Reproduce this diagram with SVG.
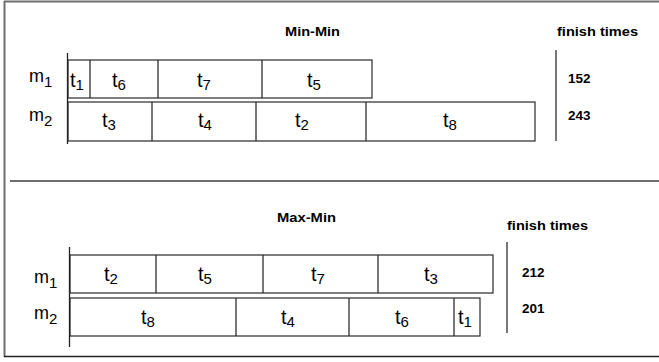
<svg xmlns="http://www.w3.org/2000/svg" width="659" height="362" viewBox="0 0 659 362">
  <style>
    .frame { stroke: #6e6e6e; stroke-width: 2; fill: none; }
    .box { fill: #ffffff; stroke: #3a3a3a; stroke-width: 1.3; }
    .div { stroke: #2e2e2e; stroke-width: 1.3; }
    .axis { stroke: #222222; stroke-width: 1.3; }
    .mark { stroke: #555555; stroke-width: 1.6; }
    .title { font-family: "Liberation Sans", Arial, sans-serif; font-weight: bold; font-size: 13.5px; fill: #000; }
    .num { font-family: "Liberation Sans", Arial, sans-serif; font-weight: bold; font-size: 13.5px; fill: #000; }
    .lab { font-family: "Liberation Sans", Arial, sans-serif; font-size: 20px; fill: #000; }
    .mlab { font-family: "Liberation Sans", Arial, sans-serif; font-size: 18px; fill: #000; }
    .sub { font-size: 15px; }
  </style>

  <rect width="659" height="362" fill="#ffffff"/>

  <!-- outer frame and section separator -->
  <g id="frame">
    <line class="frame" x1="4.5" y1="1" x2="4.5" y2="357"/>
    <line class="frame" x1="4" y1="1.5" x2="659" y2="1.5"/>
    <line x1="4" y1="356.5" x2="659" y2="356.5" stroke="#222" stroke-width="1.6"/>
    <line class="frame" x1="10" y1="181" x2="659" y2="181"/>
  </g>

  <!-- Min-Min schedule -->
  <g id="minmin">
    <text class="title" x="285" y="36" textLength="55" lengthAdjust="spacingAndGlyphs">Min-Min</text>
    <text class="title" x="557" y="36" textLength="81" lengthAdjust="spacingAndGlyphs">finish times</text>
    <line class="mark" x1="556" y1="50" x2="556" y2="141"/>
    <text class="num" x="568" y="82.5">152</text>
    <text class="num" x="568" y="119.5">243</text>

    <text class="mlab" x="29" y="82">m<tspan class="sub" dy="5">1</tspan></text>
    <text class="mlab" x="29" y="121">m<tspan class="sub" dy="5">2</tspan></text>

    <g id="minmin-m1">
      <rect class="box" x="68" y="60" width="304" height="38"/>
      <line class="div" x1="90" y1="60" x2="90" y2="98"/>
      <line class="div" x1="158" y1="60" x2="158" y2="98"/>
      <line class="div" x1="262" y1="60" x2="262" y2="98"/>
      <text class="lab" text-anchor="middle" x="77" y="87">t<tspan class="sub" dy="2.5">1</tspan></text>
      <text class="lab" text-anchor="middle" x="119" y="87">t<tspan class="sub" dy="2.5">6</tspan></text>
      <text class="lab" text-anchor="middle" x="204" y="87">t<tspan class="sub" dy="2.5">7</tspan></text>
      <text class="lab" text-anchor="middle" x="314" y="87">t<tspan class="sub" dy="2.5">5</tspan></text>
    </g>
    <g id="minmin-m2">
      <rect class="box" x="68" y="102" width="467" height="39"/>
      <line class="div" x1="152" y1="102" x2="152" y2="141"/>
      <line class="div" x1="256" y1="102" x2="256" y2="141"/>
      <line class="div" x1="366" y1="102" x2="366" y2="141"/>
      <text class="lab" text-anchor="middle" x="109" y="127">t<tspan class="sub" dy="2.5">3</tspan></text>
      <text class="lab" text-anchor="middle" x="205" y="127">t<tspan class="sub" dy="2.5">4</tspan></text>
      <text class="lab" text-anchor="middle" x="302" y="127">t<tspan class="sub" dy="2.5">2</tspan></text>
      <text class="lab" text-anchor="middle" x="450" y="127">t<tspan class="sub" dy="2.5">8</tspan></text>
    </g>
    <line class="axis" x1="67.5" y1="53" x2="67.5" y2="144"/>
  </g>

  <!-- Max-Min schedule -->
  <g id="maxmin">
    <text class="title" x="277" y="222" textLength="59" lengthAdjust="spacingAndGlyphs">Max-Min</text>
    <text class="title" x="507" y="230" textLength="81" lengthAdjust="spacingAndGlyphs">finish times</text>
    <line class="mark" x1="507" y1="242" x2="507" y2="333"/>
    <text class="num" x="522" y="276.5">212</text>
    <text class="num" x="522" y="312.5">201</text>

    <text class="mlab" x="34" y="283">m<tspan class="sub" dy="5">1</tspan></text>
    <text class="mlab" x="34" y="319">m<tspan class="sub" dy="5">2</tspan></text>

    <g id="maxmin-m1">
      <rect class="box" x="70" y="255" width="423" height="38"/>
      <line class="div" x1="156" y1="255" x2="156" y2="293"/>
      <line class="div" x1="263" y1="255" x2="263" y2="293"/>
      <line class="div" x1="378" y1="255" x2="378" y2="293"/>
      <text class="lab" text-anchor="middle" x="111" y="281">t<tspan class="sub" dy="2.5">2</tspan></text>
      <text class="lab" text-anchor="middle" x="205" y="281">t<tspan class="sub" dy="2.5">5</tspan></text>
      <text class="lab" text-anchor="middle" x="318" y="281">t<tspan class="sub" dy="2.5">7</tspan></text>
      <text class="lab" text-anchor="middle" x="431" y="281">t<tspan class="sub" dy="2.5">3</tspan></text>
    </g>
    <g id="maxmin-m2">
      <rect class="box" x="70" y="298" width="410" height="38"/>
      <line class="div" x1="236" y1="298" x2="236" y2="336"/>
      <line class="div" x1="349" y1="298" x2="349" y2="336"/>
      <line class="div" x1="454" y1="298" x2="454" y2="336"/>
      <text class="lab" text-anchor="middle" x="148" y="324">t<tspan class="sub" dy="2.5">8</tspan></text>
      <text class="lab" text-anchor="middle" x="288" y="324">t<tspan class="sub" dy="2.5">4</tspan></text>
      <text class="lab" text-anchor="middle" x="402" y="324">t<tspan class="sub" dy="2.5">6</tspan></text>
      <text class="lab" text-anchor="middle" x="465" y="324">t<tspan class="sub" dy="2.5">1</tspan></text>
    </g>
    <line class="axis" x1="69.5" y1="247" x2="69.5" y2="347"/>
  </g>
</svg>
